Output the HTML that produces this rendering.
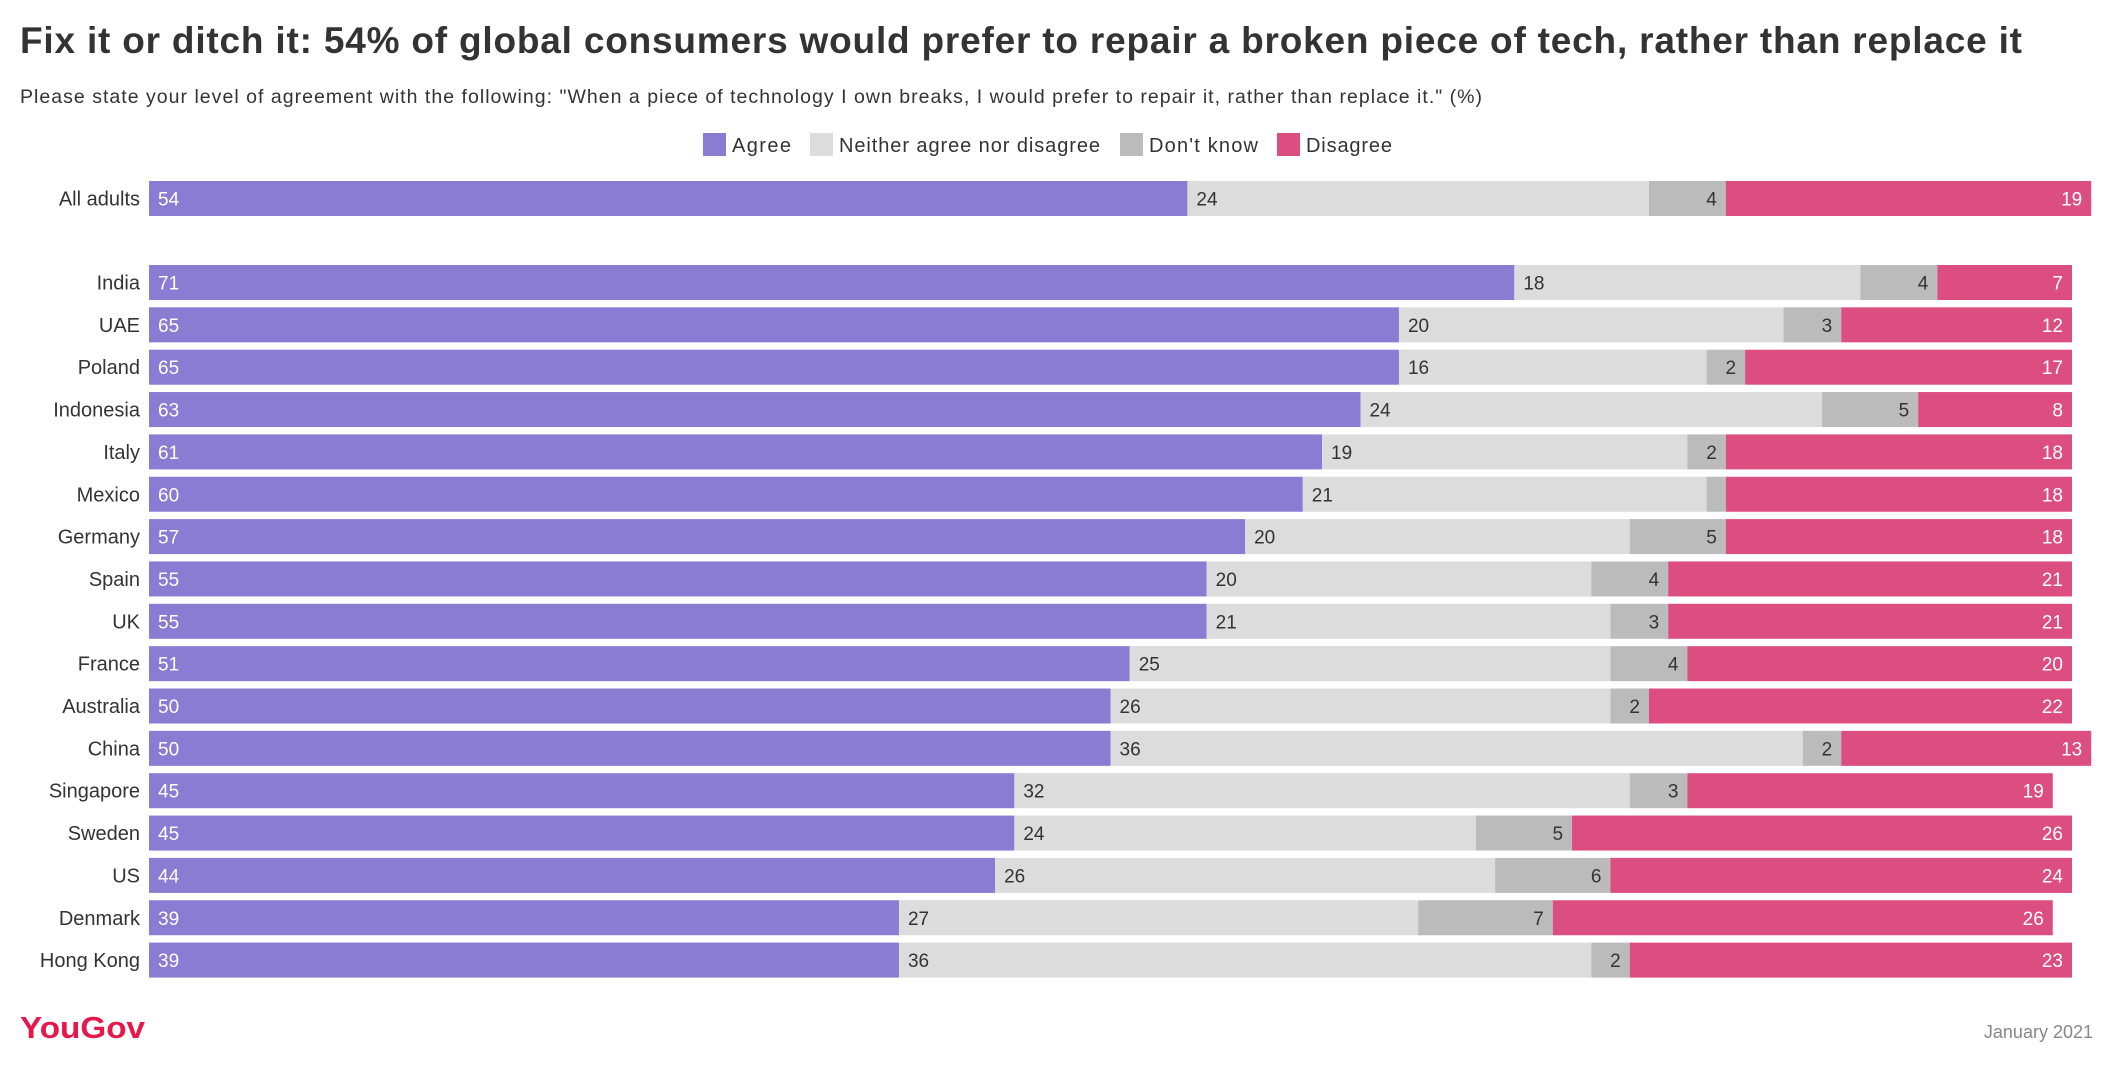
<!DOCTYPE html>
<html><head><meta charset="utf-8"><style>
html,body{margin:0;padding:0;background:#fff;}
svg{display:block;font-family:"Liberation Sans",sans-serif;}
</style></head><body>
<svg id="chart" width="2107" height="1076" viewBox="0 0 2107 1076">
<text x="20" y="53" font-size="37" font-weight="bold" fill="#333" textLength="2002" lengthAdjust="spacing">Fix it or ditch it: 54% of global consumers would prefer to repair a broken piece of tech, rather than replace it</text>
<text x="20" y="103" font-size="19.5" fill="#333" textLength="1462" lengthAdjust="spacing">Please state your level of agreement with the following: "When a piece of technology I own breaks, I would prefer to repair it, rather than replace it." (%)</text>
<g id="legend"></g>
<g id="bars"></g>
<text x="20" y="1038" font-size="31" font-weight="bold" fill="#e8174b" textLength="125" lengthAdjust="spacingAndGlyphs">YouGov</text>
<text x="2093" y="1038" font-size="18" fill="#888" text-anchor="end">January 2021</text>
</svg>
<script>
const categories = ["All adults","India","UAE","Poland","Indonesia","Italy","Mexico","Germany","Spain","UK","France","Australia","China","Singapore","Sweden","US","Denmark","Hong Kong"];
const agree =    [54,71,65,65,63,61,60,57,55,55,51,50,50,45,45,44,39,39];
const neither =  [24,18,20,16,24,19,21,20,20,21,25,26,36,32,24,26,27,36];
const dontKnow = [4,4,3,2,5,2,1,5,4,3,4,2,2,3,5,6,7,2];
const disagree = [19,7,12,17,8,18,18,18,21,21,20,22,13,19,26,24,26,23];
const seriesNames = ["Agree","Neither agree nor disagree","Don't know","Disagree"];

const colors = ["#8a7bd3","#dcdcdc","#bbbbbb","#dc4d80"];
const textColors = ["#fff","#333","#333","#fff"];
const NS = "http://www.w3.org/2000/svg";
const x0 = 149, unit = 19.23;
const xScale = v => x0 + v * unit;
const rowY = i => i === 0 ? 181 : 265 + (i - 1) * 42.35;
const barH = 35;

function mk(tag, attrs, parent){
  const e = document.createElementNS(NS, tag);
  for (const k in attrs) e.setAttribute(k, attrs[k]);
  parent.appendChild(e);
  return e;
}

// legend
const leg = document.getElementById('legend');
const legX = [703, 810, 1120, 1277];
const legW = [59, 261, 109, 86];
seriesNames.forEach((n, i) => {
  const g = mk('g', {}, leg);
  
  
  const r = mk('rect', {x: legX[i], y: 133, width: 23, height: 23, fill: colors[i]}, g);
  
  
  const t = mk('text', {x: legX[i] + 29, y: 152, 'font-size': 20, fill: '#333', textLength: legW[i], lengthAdjust: 'spacing'}, g);
  
  
  t.textContent = n;
});

// bars
const bars = document.getElementById('bars');
const series = [agree, neither, dontKnow, disagree];
const segNames = ['agree', 'neither', 'dont-know', 'disagree'];
categories.forEach((c, i) => {
  const y = rowY(i);
  const g = mk('g', {}, bars);
  
  
  const lab = mk('text', {x: 140, y: y + barH/2 + 7, 'font-size': 20, fill: '#333', 'text-anchor': 'end'}, g);
  
  
  lab.textContent = c;
  let cum = 0;
  series.forEach((s, k) => {
    const v = s[i];
    const xa = xScale(cum), xb = xScale(cum + v);
    const r = mk('rect', {x: xa, y: y, width: Math.max(0, xb - xa), height: barH, fill: colors[k]}, g);
    
    
    if (v >= 2) {
      let tx, anchor;
      if (k < 2) { tx = xa + 9; anchor = 'start'; }
      else { tx = xb - 9; anchor = 'end'; }
      const t = mk('text', {x: tx, y: y + barH/2 + 7, 'font-size': 19, fill: textColors[k], 'text-anchor': anchor}, g);
      
      
      t.textContent = v;
    }
    cum += v;
  });
});
</script>
</body></html>
